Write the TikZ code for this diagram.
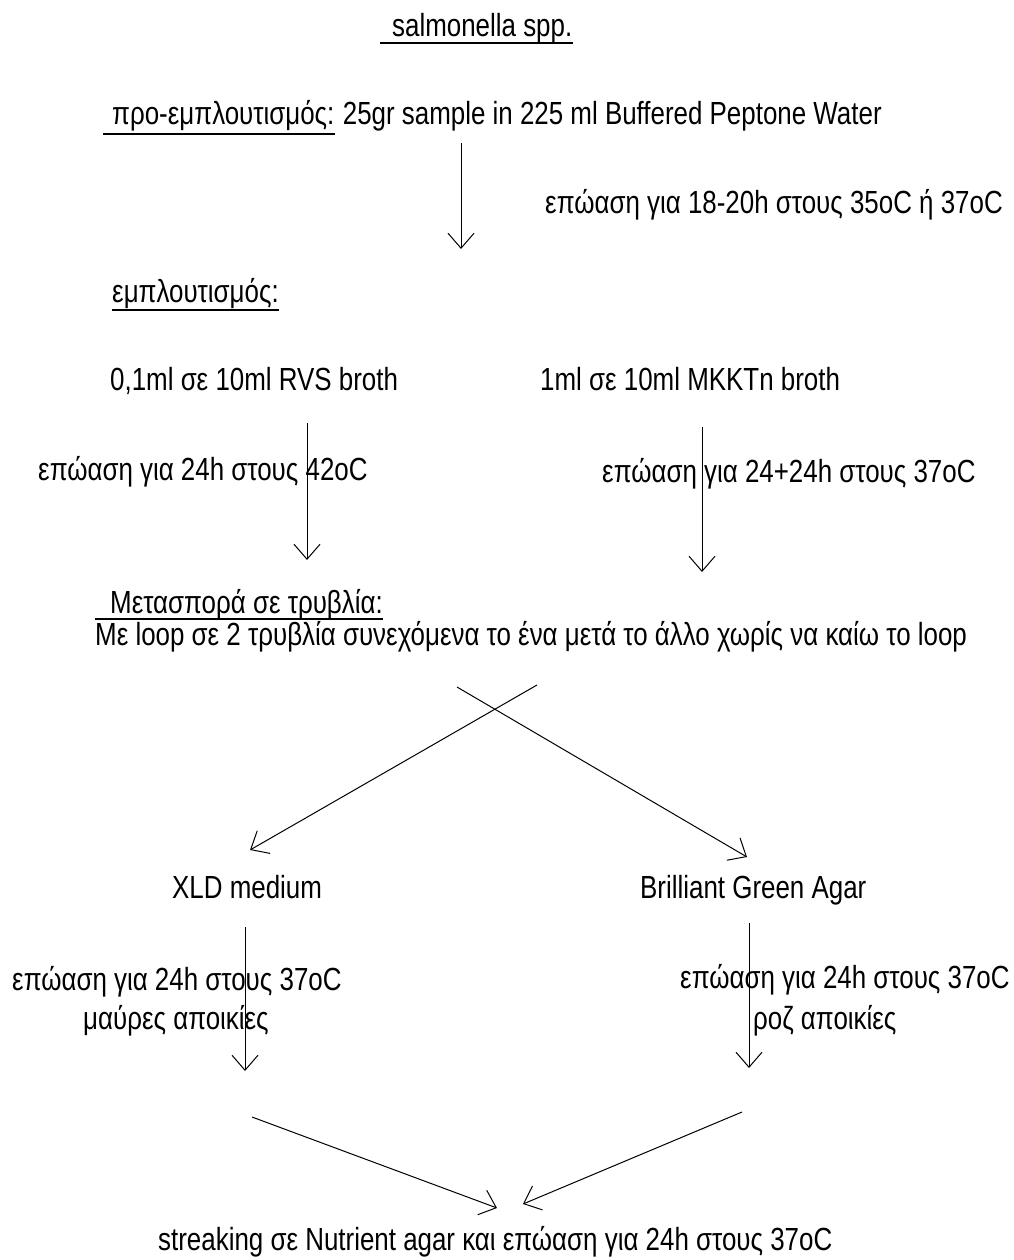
\documentclass[tikz,border=0pt]{standalone}
\usepackage{fontspec}
\setmainfont[FakeStretch=0.81]{Liberation Sans}
\usetikzlibrary{positioning,arrows.meta}

\begin{document}
\begin{tikzpicture}
  [x=1pt, y=-1pt,
   every node/.style={anchor=base west, inner sep=0pt, font=\fontsize{32}{38}\selectfont},
   flow/.style={-{Straight Barb[length=15pt,width=26pt]}, line width=1pt},
   uline/.style={line width=2pt}]
  \useasboundingbox (0,0) rectangle (1013,1260);

  \node (title) at (392,37) {salmonella spp.};
  \draw[uline] ([xshift=-12pt,yshift=-6pt]title.base west) -- ([yshift=-6pt]title.base east);

  \node (pre) at (112,125) {προ-εμπλουτισμός:};
  \node (sample) [base right=8pt of pre] {25gr sample in 225 ml Buffered Peptone Water};
  \draw[uline] ([xshift=-9pt,yshift=-9pt]pre.base west) -- ([yshift=-9pt]pre.base east);
  \node (inc1) at (545,214) {επώαση για 18-20h στους 35oC ή 37oC};

  \node (enr) at (112,302) {εμπλουτισμός:};
  \draw[uline] ([yshift=-8pt]enr.base west) -- ([yshift=-8pt]enr.base east);
  \node (rvs) at (110,390) {0,1ml σε 10ml RVS broth};
  \node (mkk) at (540,390) {1ml σε 10ml MKKTn broth};
  \node (incrvs) at (38,480) {επώαση για 24h στους 42oC};
  \node (incmkk) at (602,482) {επώαση για 24+24h στους 37oC};

  \node (plate) at (110,613) {Μετασπορά σε τρυβλία:};
  \draw[uline] ([xshift=-15pt,yshift=-6pt]plate.base west) -- ([yshift=-6pt]plate.base east);
  \node (loop) at (95,645) {Με loop σε 2 τρυβλία συνεχόμενα το ένα μετά το άλλο χωρίς να καίω το loop};

  \node (xld) at (172,898) {XLD medium};
  \node (bga) at (640,898) {Brilliant Green Agar};
  \node (incxld) at (12,990) {επώαση για 24h στους 37oC};
  \node (black) at (83,1029) {μαύρες αποικίες};
  \node (incbga) at (680,988) {επώαση για 24h στους 37oC};
  \node (pink) at (753,1029) {ροζ αποικίες};

  \node (streak) at (158,1250) {streaking σε Nutrient agar και επώαση για 24h στους 37oC};

  % arrow ends
  \coordinate (a1) at (461,143);
  \coordinate (b1) at (461,249);
  \coordinate (a2) at (307,423);
  \coordinate (b2) at (307,560);
  \coordinate (a3) at (702,427);
  \coordinate (b3) at (702,572);
  \coordinate (a4) at (537,685);
  \coordinate (b4) at (250,850);
  \coordinate (a5) at (457,687);
  \coordinate (b5) at (747,857);
  \coordinate (a6) at (245,927);
  \coordinate (b6) at (245,1071);
  \coordinate (a7) at (749,923);
  \coordinate (b7) at (749,1068);
  \coordinate (a8) at (252,1117);
  \coordinate (b8) at (497,1208);
  \coordinate (a9) at (742,1112);
  \coordinate (b9) at (523,1204);

  \draw[flow] (a1) -- (b1);
  \draw[flow] (a2) -- (b2);
  \draw[flow] (a3) -- (b3);
  \draw[flow] (a4) -- (b4);
  \draw[flow] (a5) -- (b5);
  \draw[flow] (a6) -- (b6);
  \draw[flow] (a7) -- (b7);
  \draw[flow] (a8) -- (b8);
  \draw[flow] (a9) -- (b9);
\end{tikzpicture}
\end{document}
